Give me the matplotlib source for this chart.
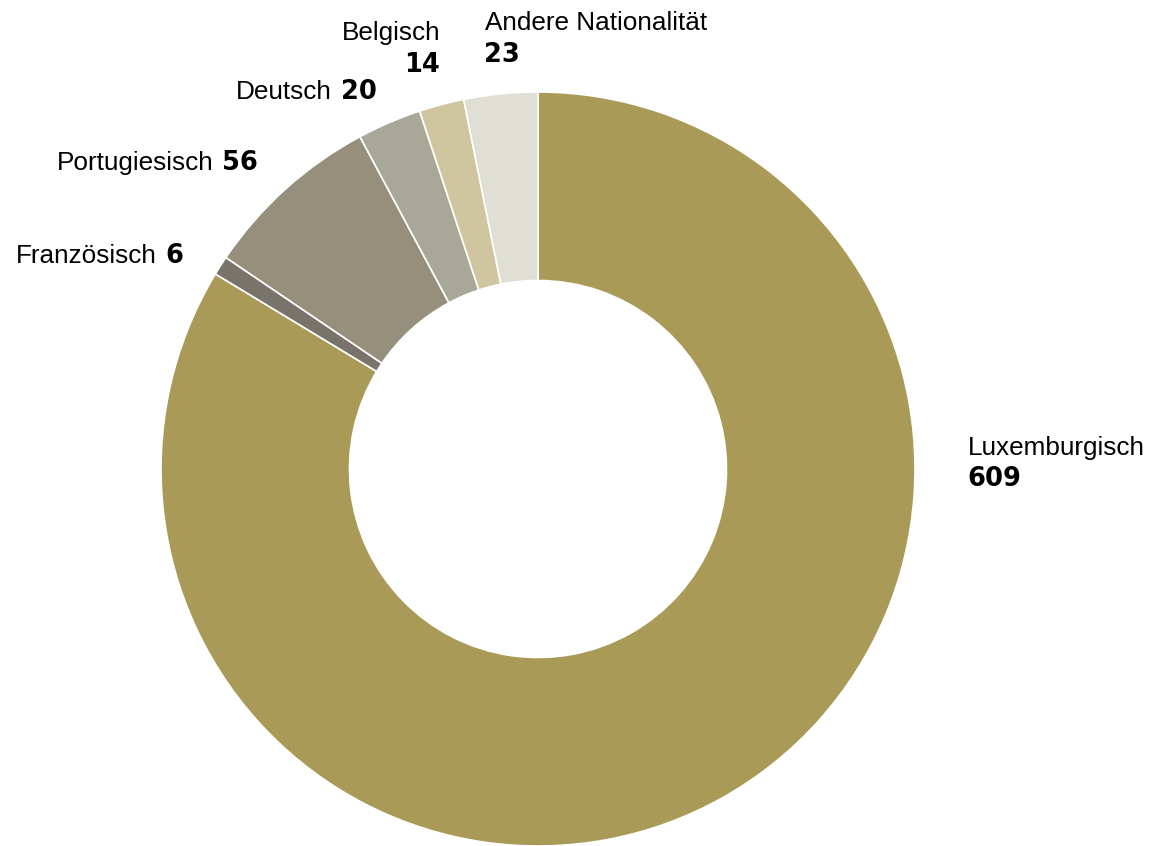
import matplotlib
matplotlib.use("Agg")
import matplotlib.pyplot as plt

# Nationalities and counts, clockwise from the top
names = ["Luxemburgisch", "Französisch", "Portugiesisch", "Deutsch", "Belgisch", "Andere Nationalität"]
counts = [609, 6, 56, 20, 14, 23]
colors = ["#aa9a58", "#79746b", "#958f7c", "#a9a898", "#cfc59f", "#e0dfd6"]

W, H = 1154, 846
fig = plt.figure(figsize=(W / 100, H / 100), dpi=100)
ax = fig.add_axes([0, 0, 1, 1])

cx, cy, r = 538, 377, 377
ax.pie(counts, colors=colors, startangle=90, counterclock=False,
       center=(cx, cy), radius=r, frame=True,
       wedgeprops=dict(width=r * 0.5, edgecolor="white", linewidth=1.2))
ax.set_xlim(0, W)
ax.set_ylim(0, H)
ax.set_aspect("equal")
ax.axis("off")

nfont = dict(family="Liberation Sans", fontsize=18.8, color="black")
bfont = dict(family="DejaVu Sans", fontsize=18.5, fontweight="bold", color="black")

def y(py):
  return H - py

# Two-line labels
ax.text(968, y(455), names[0], ha="left", va="baseline", **nfont)
ax.text(967, y(486), str(counts[0]), ha="left", va="baseline", **bfont)
ax.text(485, y(30), names[5], ha="left", va="baseline", **nfont)
ax.text(484, y(62), str(counts[5]), ha="left", va="baseline", **bfont)
ax.text(440, y(40), names[4], ha="right", va="baseline", **nfont)
ax.text(440, y(72), str(counts[4]), ha="right", va="baseline", **bfont)

# Single-line labels: name then number
for i, nx, px, by in [(3, 332, 341, 99), (2, 214, 222, 170), (1, 157, 165, 263)]:
  ax.text(nx, y(by), names[i], ha="right", va="baseline", **nfont)
  ax.text(px, y(by), str(counts[i]), ha="left", va="baseline", **bfont)

fig.savefig("out.png", dpi=100, facecolor="white")
